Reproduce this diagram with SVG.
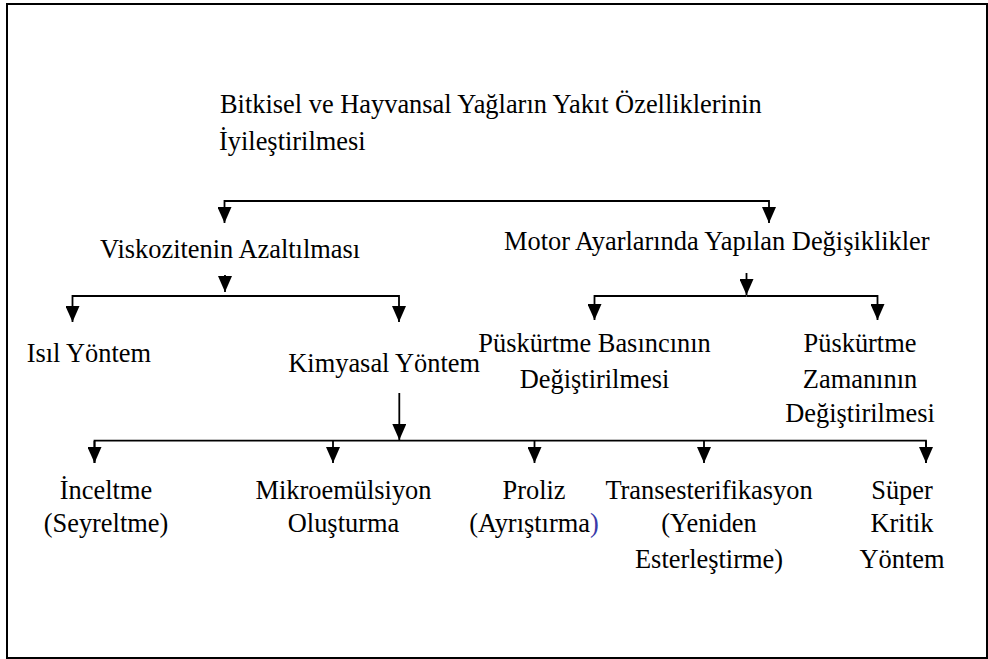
<svg xmlns="http://www.w3.org/2000/svg" width="988" height="659" viewBox="0 0 988 659">
<style>
  text { font-family: "Liberation Serif", "Times New Roman", serif; font-size: 26.4px; fill: #000; }
  .c { text-anchor: middle; }
  .ln { fill: none; stroke: #000; stroke-width: 1.8; }
</style>
<defs>
  <marker id="ah" viewBox="0 0 16 14" markerWidth="16" markerHeight="14" refX="16" refY="7" orient="auto" markerUnits="userSpaceOnUse">
    <path d="M0,0 L16,7 L0,14 z" fill="#000"/>
  </marker>
</defs>
<rect x="7" y="4" width="980" height="654" fill="#fff" stroke="#000" stroke-width="2"/>

<g id="connectors">
  <path class="ln" d="M497,201 H224.5 V223" marker-end="url(#ah)"/>
  <path class="ln" d="M497,201 H769 V223" marker-end="url(#ah)"/>
  <path class="ln" d="M225,275 V292" marker-end="url(#ah)"/>
  <path class="ln" d="M225,296 H72.5 V322" marker-end="url(#ah)"/>
  <path class="ln" d="M225,296 H399 V322" marker-end="url(#ah)"/>
  <path class="ln" d="M746.5,273 V295" marker-end="url(#ah)"/>
  <path class="ln" d="M746.5,296 H594.5 V320" marker-end="url(#ah)"/>
  <path class="ln" d="M746.5,296 H877.5 V320" marker-end="url(#ah)"/>
  <path class="ln" d="M399.3,393 V440" marker-end="url(#ah)"/>
  <path class="ln" d="M94.5,463 V440.7 H926 V463" />
  <path class="ln" d="M94.5,441 V463" marker-end="url(#ah)"/>
  <path class="ln" d="M333,441 V463" marker-end="url(#ah)"/>
  <path class="ln" d="M534.5,441 V463" marker-end="url(#ah)"/>
  <path class="ln" d="M704,441 V463" marker-end="url(#ah)"/>
  <path class="ln" d="M926,441 V463" marker-end="url(#ah)"/>
</g>

<g id="title">
  <text x="220" y="113">Bitkisel ve Hayvansal Yağların Yakıt Özelliklerinin</text>
  <text x="219" y="150">İyileştirilmesi</text>
</g>
<g id="viskozite">
  <text x="100" y="258">Viskozitenin Azaltılması</text>
</g>
<g id="motor">
  <text x="504" y="250">Motor Ayarlarında Yapılan Değişiklikler</text>
</g>
<g id="isil">
  <text x="26.7" y="362">Isıl Yöntem</text>
</g>
<g id="kimyasal">
  <text x="288.3" y="372">Kimyasal Yöntem</text>
</g>
<g id="basinc">
  <text class="c" x="594.5" y="352">Püskürtme Basıncının</text>
  <text class="c" x="594.5" y="388">Değiştirilmesi</text>
</g>
<g id="zaman">
  <text class="c" x="860" y="352">Püskürtme</text>
  <text class="c" x="860" y="388">Zamanının</text>
  <text class="c" x="860" y="422">Değiştirilmesi</text>
</g>
<g id="inceltme">
  <text class="c" x="106" y="499">İnceltme</text>
  <text class="c" x="106" y="532">(Seyreltme)</text>
</g>
<g id="mikroemulsiyon">
  <text class="c" x="343.5" y="499">Mikroemülsiyon</text>
  <text class="c" x="343.5" y="532">Oluşturma</text>
</g>
<g id="proliz">
  <text class="c" x="534" y="499">Proliz</text>
  <text class="c" x="534" y="532">(Ayrıştırma<tspan fill="#3a3aa8">)</tspan></text>
</g>
<g id="transesterifikasyon">
  <text class="c" x="709" y="499">Transesterifikasyon</text>
  <text class="c" x="709" y="532">(Yeniden</text>
  <text class="c" x="709" y="568">Esterleştirme)</text>
</g>
<g id="superkritik">
  <text class="c" x="902" y="499">Süper</text>
  <text class="c" x="902" y="532">Kritik</text>
  <text class="c" x="902" y="568">Yöntem</text>
</g>
</svg>
